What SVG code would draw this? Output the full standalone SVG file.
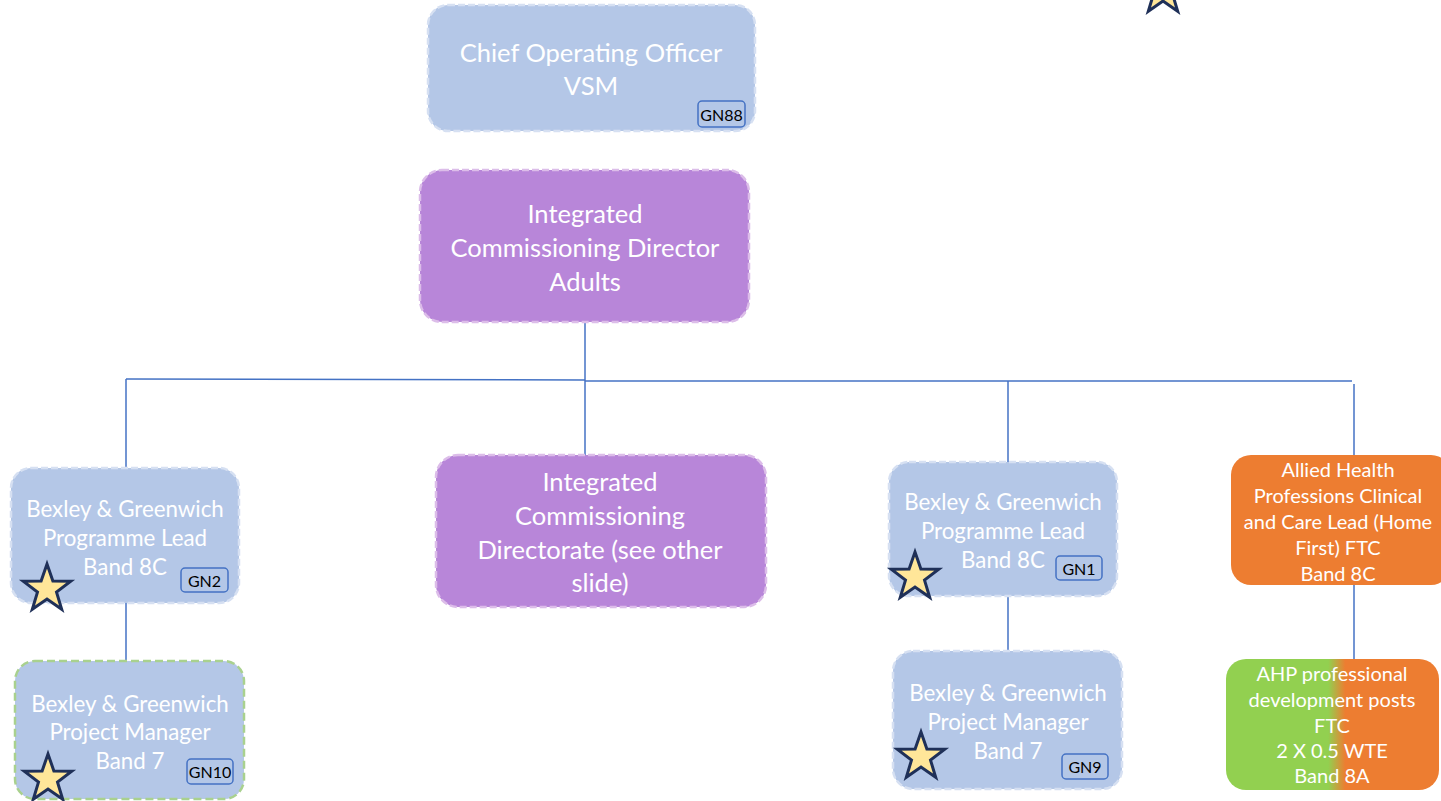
<svg xmlns="http://www.w3.org/2000/svg" width="1441" height="801" viewBox="0 0 1441 801">
<style>
.t{font-family:Lato,"Open Sans","Liberation Sans",sans-serif;fill:#ffffff;text-anchor:middle;dominant-baseline:central}
.blue{fill:#b4c7e7;stroke:#d6e0f2;stroke-width:2.5;stroke-dasharray:7 3}
.green{fill:#b4c7e7;stroke:#a9d18e;stroke-width:2.5;stroke-dasharray:8 4}
.purple{fill:#b886d9;stroke:#dcbde9;stroke-width:2.5;stroke-dasharray:7 3}
.badge{fill:#b4c7e7;stroke:#4472c4;stroke-width:1.5}
.bt{font-family:Lato,"Open Sans","Liberation Sans",sans-serif;fill:#000000;font-size:16px;text-anchor:middle;dominant-baseline:central}
.star{fill:#ffe699;stroke:#1f3058;stroke-width:3;stroke-linejoin:miter}
.c{stroke:#4472c4;stroke-width:1.5;fill:none}
.f24{font-size:25.5px}
.f21{font-size:22.3px}
.f19{font-size:20px}
</style>
<defs>
<path id="star" d="M0,-25 L5.88,-8.09 L23.78,-7.73 L9.51,3.09 L14.69,20.23 L0,10 L-14.69,20.23 L-9.51,3.09 L-23.78,-7.73 L-5.88,-8.09 Z"/>
<linearGradient id="gr" x1="0" y1="0" x2="1" y2="0">
<stop offset="0" stop-color="#92d050"/>
<stop offset="0.48" stop-color="#92d050"/>
<stop offset="0.56" stop-color="#ed7d31"/>
<stop offset="1" stop-color="#ed7d31"/>
</linearGradient>
</defs>
<rect width="1441" height="801" fill="#ffffff"/>
<g id="connectors">
<line class="c" x1="585" y1="322" x2="585" y2="455"/>
<line class="c" x1="126" y1="379" x2="585" y2="380"/>
<line class="c" x1="585" y1="381" x2="1352" y2="381"/>
<line class="c" x1="126" y1="379" x2="126" y2="468"/>
<line class="c" x1="126" y1="603" x2="126" y2="660"/>
<line class="c" x1="1008" y1="381" x2="1008" y2="462"/>
<line class="c" x1="1008" y1="596" x2="1008" y2="651"/>
<line class="c" x1="1354" y1="384" x2="1354" y2="455"/>
<line class="c" x1="1354" y1="585" x2="1354" y2="659"/>
</g>
<g id="topstar"><use href="#star" class="star" transform="translate(1163,-9)"/></g>
<g id="coo">
<rect class="blue" x="428" y="5" width="327" height="126" rx="20"/>
<text class="t f24" x="591" y="52">Chief Operating Officer</text>
<text class="t f24" x="591" y="85">VSM</text>
<rect class="badge" x="698" y="101" width="47" height="26" rx="4"/>
<text class="bt" x="721.5" y="114">GN88</text>
</g>
<g id="icd">
<rect class="purple" x="420" y="170" width="329" height="152" rx="22"/>
<text class="t f24" x="585" y="213">Integrated</text>
<text class="t f24" x="585" y="247">Commissioning Director</text>
<text class="t f24" x="585" y="281">Adults</text>
</g>
<g id="icdir">
<rect class="purple" x="436" y="455" width="330" height="152" rx="22"/>
<text class="t f24" x="600" y="481">Integrated</text>
<text class="t f24" x="600" y="515">Commissioning</text>
<text class="t f24" x="600" y="549">Directorate (see other</text>
<text class="t f24" x="600" y="582">slide)</text>
</g>
<g id="bgpl1">
<rect class="blue" x="11" y="468" width="228" height="135" rx="20"/>
<text class="t f21" x="125" y="508">Bexley &amp; Greenwich</text>
<text class="t f21" x="125" y="537">Programme Lead</text>
<text class="t f21" x="125" y="566">Band 8C</text>
<rect class="badge" x="181" y="568" width="47" height="24" rx="4"/>
<text class="bt" x="204.5" y="580">GN2</text>
<use href="#star" class="star" transform="translate(47,589)"/>
</g>
<g id="bgpm1">
<rect class="green" x="15" y="661" width="229" height="138" rx="20"/>
<text class="t f21" x="130" y="703">Bexley &amp; Greenwich</text>
<text class="t f21" x="130" y="731">Project Manager</text>
<text class="t f21" x="130" y="760">Band 7</text>
<rect class="badge" x="187" y="759" width="46" height="25" rx="4"/>
<text class="bt" x="210" y="771.5">GN10</text>
<use href="#star" class="star" transform="translate(48,779)"/>
</g>
<g id="bgpl2">
<rect class="blue" x="889" y="462" width="228" height="134" rx="20"/>
<text class="t f21" x="1003" y="501">Bexley &amp; Greenwich</text>
<text class="t f21" x="1003" y="530">Programme Lead</text>
<text class="t f21" x="1003" y="559">Band 8C</text>
<rect class="badge" x="1056" y="556" width="46" height="24" rx="4"/>
<text class="bt" x="1079" y="568">GN1</text>
<use href="#star" class="star" transform="translate(915,577)"/>
</g>
<g id="bgpm2">
<rect class="blue" x="893" y="651" width="229" height="138" rx="20"/>
<text class="t f21" x="1008" y="692">Bexley &amp; Greenwich</text>
<text class="t f21" x="1008" y="721">Project Manager</text>
<text class="t f21" x="1008" y="750">Band 7</text>
<rect class="badge" x="1062" y="754" width="46" height="25" rx="4"/>
<text class="bt" x="1085" y="766.5">GN9</text>
<use href="#star" class="star" transform="translate(921,757)"/>
</g>
<g id="ahp-lead">
<rect x="1231" y="455" width="220" height="130" rx="20" fill="#ed7d31"/>
<text class="t f19" x="1338" y="469">Allied Health</text>
<text class="t f19" x="1338" y="495">Professions Clinical</text>
<text class="t f19" x="1338" y="521">and Care Lead (Home</text>
<text class="t f19" x="1338" y="547">First) FTC</text>
<text class="t f19" x="1338" y="573">Band 8C</text>
</g>
<g id="ahp-posts">
<rect x="1226" y="659" width="213" height="131" rx="20" fill="url(#gr)"/>
<text class="t f19" x="1332" y="673">AHP professional</text>
<text class="t f19" x="1332" y="699">development posts</text>
<text class="t f19" x="1332" y="725">FTC</text>
<text class="t f19" x="1332" y="750">2 X 0.5 WTE</text>
<text class="t f19" x="1332" y="775">Band 8A</text>
</g>
</svg>
